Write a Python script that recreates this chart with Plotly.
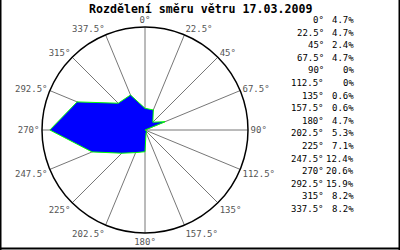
import plotly.graph_objects as go

directions = [0, 22.5, 45, 67.5, 90, 112.5, 135, 157.5, 180, 202.5, 225, 247.5, 270, 292.5, 315, 337.5]
dir_labels = ["0°", "22.5°", "45°", "67.5°", "90°", "112.5°", "135°", "157.5°",
              "180°", "202.5°", "225°", "247.5°", "270°", "292.5°", "315°", "337.5°"]
percent = [4.7, 4.7, 2.4, 4.7, 0, 0, 0.6, 0.6, 4.7, 5.3, 7.1, 12.4, 20.6, 15.9, 8.2, 8.2]
pct_labels = ["4.7%", "4.7%", "2.4%", "4.7%", "0%", "0%", "0.6%", "0.6%",
              "4.7%", "5.3%", "7.1%", "12.4%", "20.6%", "15.9%", "8.2%", "8.2%"]
title_text = "Rozdělení směru větru 17.03.2009"

W, H = 400, 250
cx, cy, R = 145, 130, 103

fig = go.Figure()
fig.add_trace(go.Scatterpolar(
    r=percent + [percent[0]],
    theta=directions + [directions[0]],
    mode="lines",
    fill="toself",
    fillcolor="#0000ff",
    line=dict(color="#00ff00", width=1),
    hoverinfo="skip",
    showlegend=False,
))

mono = "DejaVu Sans Mono"
annotations = []
for i, (d, p) in enumerate(zip(dir_labels, pct_labels)):
    y = 20 + 12.6 * i
    annotations.append(dict(x=326 / W, y=1 - y / H, xref="paper", yref="paper",
                            text=d, showarrow=False, xanchor="right", yanchor="middle",
                            font=dict(family=mono, size=9, color="#000000")))
    annotations.append(dict(x=356 / W, y=1 - y / H, xref="paper", yref="paper",
                            text=p, showarrow=False, xanchor="right", yanchor="middle",
                            font=dict(family=mono, size=9, color="#000000")))
annotations.append(dict(x=0.5, y=1 - 9 / H, xref="paper", yref="paper",
                        text="<b>" + title_text + "</b>", showarrow=False,
                        xanchor="center", yanchor="middle",
                        font=dict(family=mono, size=11.6, color="#000000")))

shapes = [
    dict(type="line", xref="paper", yref="paper", x0=0.5 / W, x1=0.5 / W, y0=0, y1=1,
         line=dict(color="black", width=2)),
    dict(type="line", xref="paper", yref="paper", x0=1 - 0.5 / W, x1=1 - 0.5 / W, y0=0, y1=1,
         line=dict(color="black", width=2)),
    dict(type="line", xref="paper", yref="paper", x0=0, x1=1, y0=1.5 / H, y1=1.5 / H,
         line=dict(color="black", width=2)),
]

fig.update_layout(
    width=W, height=H,
    margin=dict(l=0, r=0, t=0, b=0),
    paper_bgcolor="white",
    plot_bgcolor="white",
    annotations=annotations,
    shapes=shapes,
    polar=dict(
        domain=dict(x=[(cx - R) / W, (cx + R) / W], y=[(H - cy - R) / H, (H - cy + R) / H]),
        bgcolor="white",
        radialaxis=dict(visible=False, range=[0, 22.3]),
        angularaxis=dict(
            rotation=90, direction="clockwise",
            tickmode="array", tickvals=directions, ticktext=dir_labels,
            ticks="", showgrid=True, gridcolor="#777777", gridwidth=1,
            linecolor="black", linewidth=1.5,
            tickfont=dict(family=mono, size=9, color="#555555"),
        ),
    ),
)

fig.write_html("out.html")
